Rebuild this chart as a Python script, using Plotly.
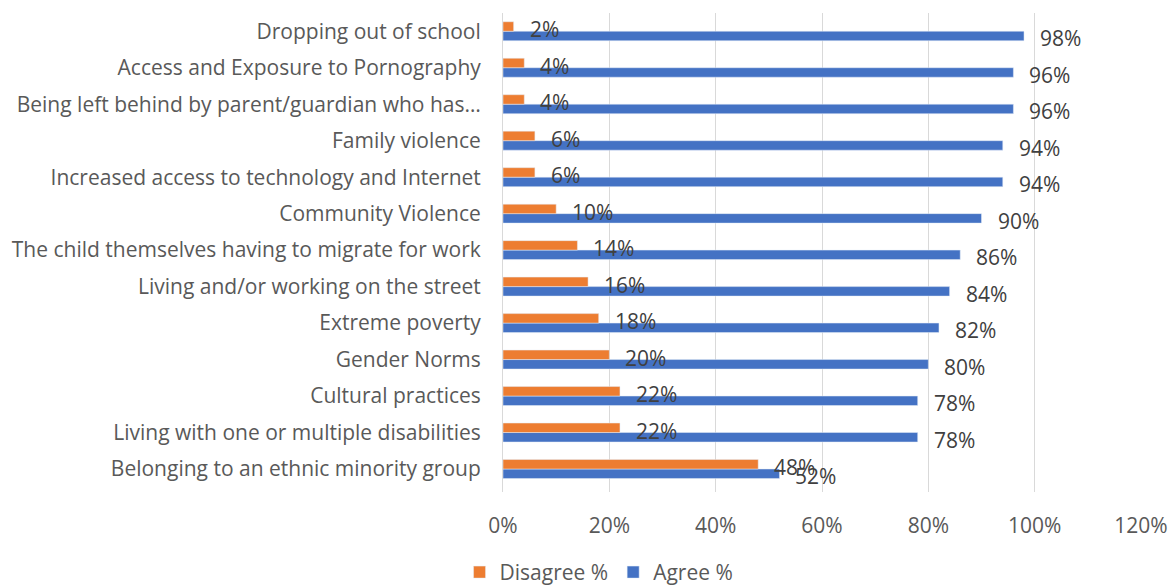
import plotly.graph_objects as go

categories = [
    "Belonging to an ethnic minority group",
    "Living with one or multiple disabilities",
    "Cultural practices",
    "Gender Norms",
    "Extreme poverty",
    "Living and/or working on the street",
    "The child themselves having to migrate for work",
    "Community Violence",
    "Increased access to technology and Internet",
    "Family violence",
    "Being left behind by parent/guardian who has…",
    "Access and Exposure to Pornography",
    "Dropping out of school",
]
agree = [52, 78, 78, 80, 82, 84, 86, 90, 94, 94, 96, 96, 98]
disagree = [48, 22, 22, 20, 18, 16, 14, 10, 6, 6, 4, 4, 2]

FONT = "Open Sans"
FS = 21
BLUE = "#4472C4"
ORANGE = "#ED7D31"

fig = go.Figure()
fig.add_trace(go.Bar(y=categories, x=[v / 100 for v in agree], orientation="h",
                     name="Agree %", marker=dict(color=BLUE)))
fig.add_trace(go.Bar(y=categories, x=[v / 100 for v in disagree], orientation="h",
                     name="Disagree %", marker=dict(color=ORANGE)))

annotations = []
for c, v in zip(categories, disagree):
    annotations.append(dict(x=v / 100, y=c, xref="x", yref="y", text=f"{v}%",
                            showarrow=False, xanchor="left", yanchor="middle",
                            xshift=14, yshift=2,
                            font=dict(family=FONT, size=FS, color="#404040")))
for c, v in zip(categories, agree):
    annotations.append(dict(x=v / 100, y=c, xref="x", yref="y", text=f"{v}%",
                            showarrow=False, xanchor="left", yanchor="middle",
                            xshift=14, yshift=-7,
                            font=dict(family=FONT, size=FS, color="#404040")))

fig.update_layout(
    width=1170, height=585,
    margin=dict(l=503, r=29, t=13, b=93, autoexpand=False),
    barmode="group", bargap=0.48, bargroupgap=0,
    plot_bgcolor="white", paper_bgcolor="white",
    font=dict(family=FONT, size=FS, color="#595959"),
    annotations=annotations,
    legend=dict(orientation="h", traceorder="reversed",
                xref="container", yref="paper",
                x=0.512, xanchor="center", y=-0.168, yanchor="middle",
                font=dict(family=FONT, size=FS, color="#595959")),
)
fig.update_xaxes(range=[0, 1.2], dtick=0.2, tickformat=".0%", automargin=False,
                 showgrid=True, gridcolor="#D9D9D9", gridwidth=1,
                 zeroline=False, showline=False, ticklabelstandoff=19,
                 tickfont=dict(family=FONT, size=FS, color="#595959"))
fig.update_yaxes(showgrid=False, showline=True, linecolor="#D9D9D9", automargin=False,
                 ticklabelstandoff=17,
                 tickfont=dict(family=FONT, size=FS, color="#595959"))

fig.write_html("out.html", config={"displayModeBar": False},
               post_script="document.body.style.margin='0';document.body.style.padding='0';")
